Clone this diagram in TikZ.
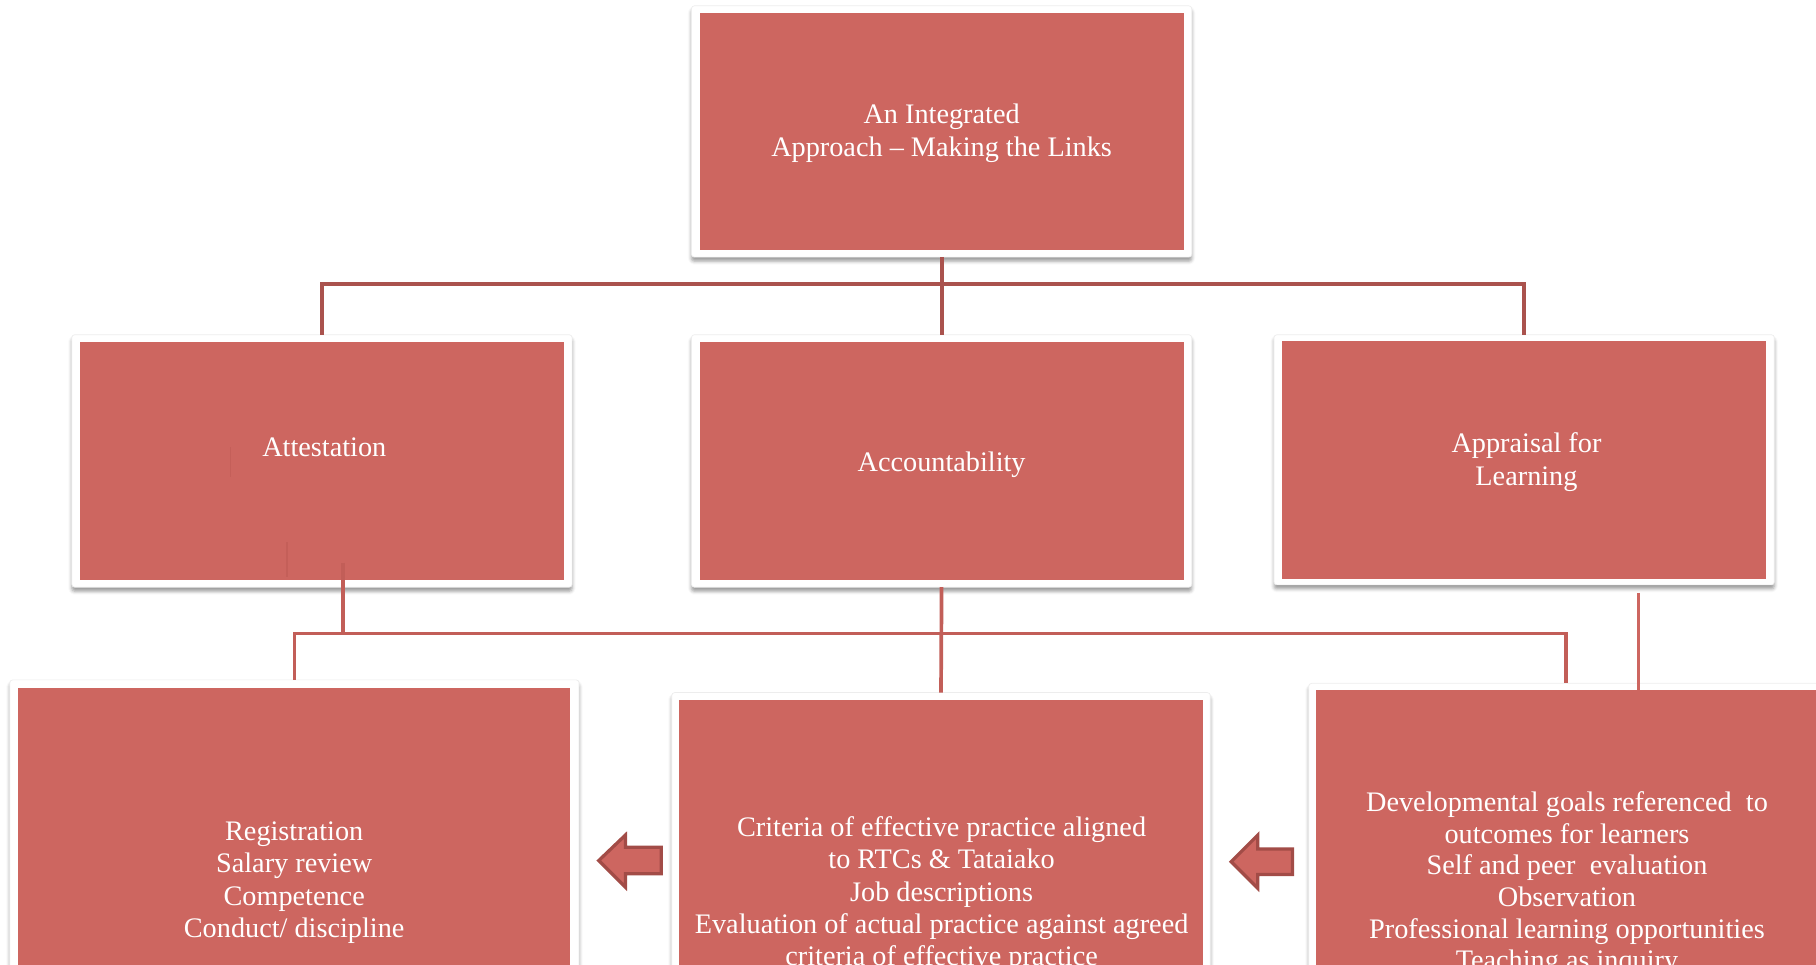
\documentclass[tikz,border=0pt]{standalone}
\usepackage{fontspec}
\setmainfont{Liberation Serif}
\usetikzlibrary{shadows.blur}
\definecolor{boxred}{HTML}{CD6660}
\definecolor{linedark}{HTML}{AA524D}
\definecolor{linemid}{HTML}{C25E58}
\definecolor{arrowedge}{HTML}{A24C47}
\definecolor{faint}{HTML}{C45F59}
\begin{document}
\begin{tikzpicture}[x=1pt,y=-1pt,
  frame/.style={fill=white, draw=black!7, line width=0.6pt, rounded corners=2.5pt,
    inner sep=0pt, outer sep=0pt,
    blur shadow={shadow xshift=0pt, shadow yshift=-3.5pt, shadow blur radius=3pt, shadow opacity=40}},
  fillbox/.style={fill=boxred, draw=none, inner sep=0pt, outer sep=0pt},
  txt/.style={text=white, align=center, font=\fontsize{24.4}{28}\selectfont, inner sep=0pt},
  txtb/.style={text=white, align=center, font=\fontsize{24.4}{27.3}\selectfont, inner sep=0pt},
  bus/.style={draw=linedark, line width=3.6pt},
  bustwo/.style={draw=linemid, line width=3.2pt},
  busthree/.style={draw=boxred, line width=2.8pt},
  faintline/.style={draw=faint, line width=1.6pt},
  arrowshape/.style={fill=boxred, draw=arrowedge, line width=2.8pt, line join=miter}]
\useasboundingbox (0,0) rectangle (1568,833);
\clip (0,0) rectangle (1568,833);

% top box
\node[frame, minimum width=432pt, minimum height=217pt] (top) at (813,113.5) {};
\node[fillbox, minimum width=418pt, minimum height=205pt] (topin) at (top.center) {};
\node[txt] (toptxt) at (813,115) {An Integrated\\Approach – Making the Links};

% middle row
\node[frame, minimum width=432pt, minimum height=218pt] (att) at (278,398) {};
\node[fillbox, minimum width=418pt, minimum height=205pt] (attin) at (att.center) {};
\node[frame, minimum width=432pt, minimum height=218pt] (acc) at (813,398) {};
\node[fillbox, minimum width=418pt, minimum height=205pt] (accin) at (acc.center) {};
\node[frame, minimum width=432pt, minimum height=216pt] (app) at (1316,397) {};
\node[fillbox, minimum width=418pt, minimum height=205pt] (appin) at (app.center) {};

\node[txt] (atttxt) at (280,386) {Attestation};
\node[txt] (acctxt) at (813,401) {Accountability};
\node[txt] (apptxt) at (1318,399) {Appraisal for\\ Learning};

% faint marks in the Attestation box
\coordinate (f1) at (199,386);
\coordinate (f2) at (199,412);
\coordinate (f3) at (248,468);
\coordinate (f4) at (248,498);
\draw[faintline] (f1) -- (f2);
\draw[faintline] (f3) -- (f4);

% bottom row
\node[frame, minimum width=491.5pt, minimum height=400pt] (reg) at (254.25,787) {};
\node[fillbox, minimum width=476.5pt, minimum height=386pt] (regin) at (253.75,787) {};
\node[frame, minimum width=465pt, minimum height=400pt] (crit) at (812.5,798) {};
\node[fillbox, minimum width=453pt, minimum height=388pt] (critin) at (812.5,798) {};
\node[frame, minimum width=470pt, minimum height=410pt] (dev) at (1365,795) {};
\node[fillbox, minimum width=458pt, minimum height=398pt] (devin) at (1365,795) {};

\node[txt] (regtxt) at (254,762) {Registration\\Salary review\\Competence\\Conduct/ discipline};
\node[txt] (crittxt) at (813,772) {Criteria of effective practice aligned\\to RTCs \& Tataiako\\Job descriptions\\Evaluation of actual practice against agreed\\criteria of effective practice};
\node[txtb] (devtxt) at (1353,763) {Developmental goals referenced\ \ to\\outcomes for learners\\Self and peer\ \ evaluation\\Observation\\Professional learning opportunities\\Teaching as inquiry};

% upper connectors
\coordinate (j1) at (813,245);
\draw[bus] (att.north) |- (j1) -| (app.north);
\draw[bus] (top.south) -- (acc.north);

% lower connectors
\coordinate (j2) at (813,547);
\coordinate (d1) at (1352,590);
\coordinate (a1) at (296,486);
\coordinate (p1) at (1415,512);
\coordinate (p2) at (1415,596);
\draw[bustwo] (reg.north) |- (j2) -| (d1);
\draw[bustwo] (acc.south) -- (crit.north);
\draw[bustwo] (a1) -- (a1 |- j2);
\draw[busthree] (p1) -- (p2);

% block arrows
\draw[arrowshape] (517,743) -- (540,721) -- (540,731.5) -- (571,731.5) -- (571,754.5) -- (540,754.5) -- (540,766) -- cycle;
\draw[arrowshape] (1063,744) -- (1086,721) -- (1086,733) -- (1116,733) -- (1116,755) -- (1086,755) -- (1086,767) -- cycle;
\end{tikzpicture}
\end{document}
